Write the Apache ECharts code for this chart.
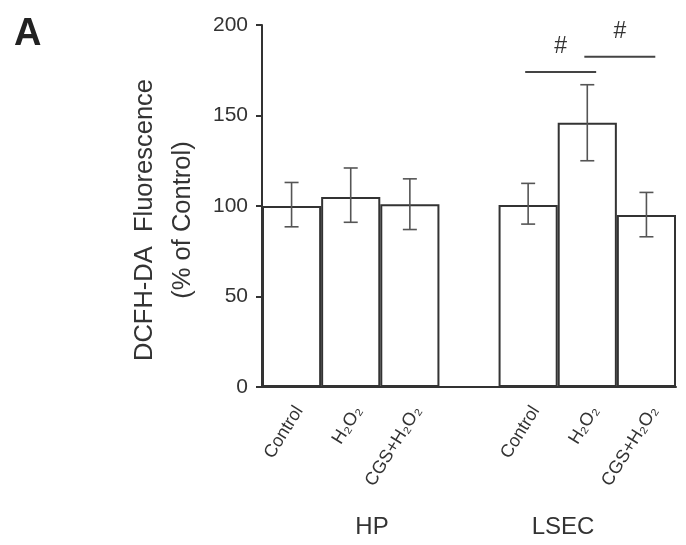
<!DOCTYPE html>
<html>
<head>
<meta charset="utf-8">
<script src="https://cdn.jsdelivr.net/npm/echarts@6/dist/echarts.min.js"></script>
<style>
  html, body { margin: 0; padding: 0; background: #fff; }
  #chart { width: 686px; height: 545px; }
</style>
</head>
<body>
<div id="chart"></div>
<script>
// slot 3 is an empty spacer between the HP and LSEC groups
const categories = ['Control', 'H₂O₂', 'CGS+H₂O₂', '', 'Control', 'H₂O₂', 'CGS+H₂O₂']
const means = [100, 105, 101, null, 100.5, 146, 95]
const errLow = [88.5, 91, 87, null, 90, 125, 83]
const errHigh = [113, 121, 115, null, 112.5, 167, 107.5]
const yTicks = [0, 50, 100, 150, 200]
const groups = ['HP', 'LSEC']
// significance brackets: [from category, to category, height] (fractions are parts of a slot)
const brackets = [[3.95, 5.15, 174], [4.95, 6.15, 182.5]]

const chart = echarts.init(document.getElementById('chart'))
const font = 'Liberation Sans, Arial, sans-serif'

const errData = means.map((m, i) => (m == null ? null : [i, errLow[i], errHigh[i]])).filter(Boolean)

// category axes snap to whole slots, so add the fraction by hand
function slotX(api, v, y) {
  const i = Math.round(v)
  const p = api.coord([i, y])
  return [p[0] + (v - i) * api.size([1, 0])[0], p[1]]
}

const option = {
  animation: false,
  title: {
    text: 'A',
    left: 14,
    top: 16,
    padding: 0,
    textStyle: { fontSize: 38, fontWeight: 'bold', color: '#222', fontFamily: font }
  },
  grid: { left: 262, right: 10, top: 25, bottom: 158 },
  xAxis: {
    type: 'category',
    data: categories,
    axisLine: { lineStyle: { color: '#333', width: 2 } },
    axisTick: { show: false },
    axisLabel: {
      interval: 0,
      rotate: 58,
      margin: 16,
      verticalAlign: 'top',
      fontSize: 18,
      color: '#333',
      fontFamily: font
    }
  },
  yAxis: {
    type: 'value',
    min: yTicks[0],
    max: yTicks[yTicks.length - 1],
    interval: 50,
    name: 'DCFH-DA  Fluorescence\n(% of Control)',
    nameLocation: 'middle',
    nameGap: 49,
    nameTextStyle: { fontSize: 25.5, lineHeight: 38, color: '#333', fontFamily: font, padding: [0, 28, 0, 0] },
    axisLine: { show: true, lineStyle: { color: '#333', width: 2 } },
    axisTick: { show: true, length: 6, lineStyle: { color: '#333', width: 2 } },
    axisLabel: { fontSize: 21, color: '#333', margin: 14, fontFamily: font },
    splitLine: { show: false }
  },
  series: [
    {
      name: 'mean',
      type: 'bar',
      data: means,
      barWidth: '100%',
      barCategoryGap: 0,
      itemStyle: { color: '#fff', borderColor: '#333', borderWidth: 2 }
    },
    {
      name: 'sem',
      type: 'custom',
      data: errData,
      z: 5,
      renderItem: function (params, api) {
        const x = api.value(0)
        const lo = api.coord([x, api.value(1)])
        const hi = api.coord([x, api.value(2)])
        const cap = 7
        const style = { stroke: '#555', lineWidth: 1.6 }
        return {
          type: 'group',
          children: [
            { type: 'line', shape: { x1: lo[0], y1: lo[1], x2: hi[0], y2: hi[1] }, style: style },
            { type: 'line', shape: { x1: hi[0] - cap, y1: hi[1], x2: hi[0] + cap, y2: hi[1] }, style: style },
            { type: 'line', shape: { x1: lo[0] - cap, y1: lo[1], x2: lo[0] + cap, y2: lo[1] }, style: style }
          ]
        }
      }
    },
    {
      name: 'sig',
      type: 'custom',
      data: brackets,
      z: 5,
      renderItem: function (params, api) {
        const a = slotX(api, api.value(0), api.value(2))
        const b = slotX(api, api.value(1), api.value(2))
        return {
          type: 'group',
          children: [
            { type: 'line', shape: { x1: a[0], y1: a[1], x2: b[0], y2: b[1] }, style: { stroke: '#444', lineWidth: 2 } },
            {
              type: 'text',
              x: (a[0] + b[0]) / 2,
              y: a[1] - 25,
              style: { text: '#', fontSize: 23, fill: '#333', align: 'center', verticalAlign: 'middle', fontFamily: font }
            }
          ]
        }
      }
    }
  ],
  graphic: [
    {
      type: 'text',
      x: 372,
      y: 527,
      style: { text: groups[0], fontSize: 24, fill: '#333', align: 'center', verticalAlign: 'middle', fontFamily: font }
    },
    {
      type: 'text',
      x: 563,
      y: 527,
      style: { text: groups[1], fontSize: 24, fill: '#333', align: 'center', verticalAlign: 'middle', fontFamily: font }
    }
  ]
}

chart.setOption(option)
</script>
</body>
</html>
